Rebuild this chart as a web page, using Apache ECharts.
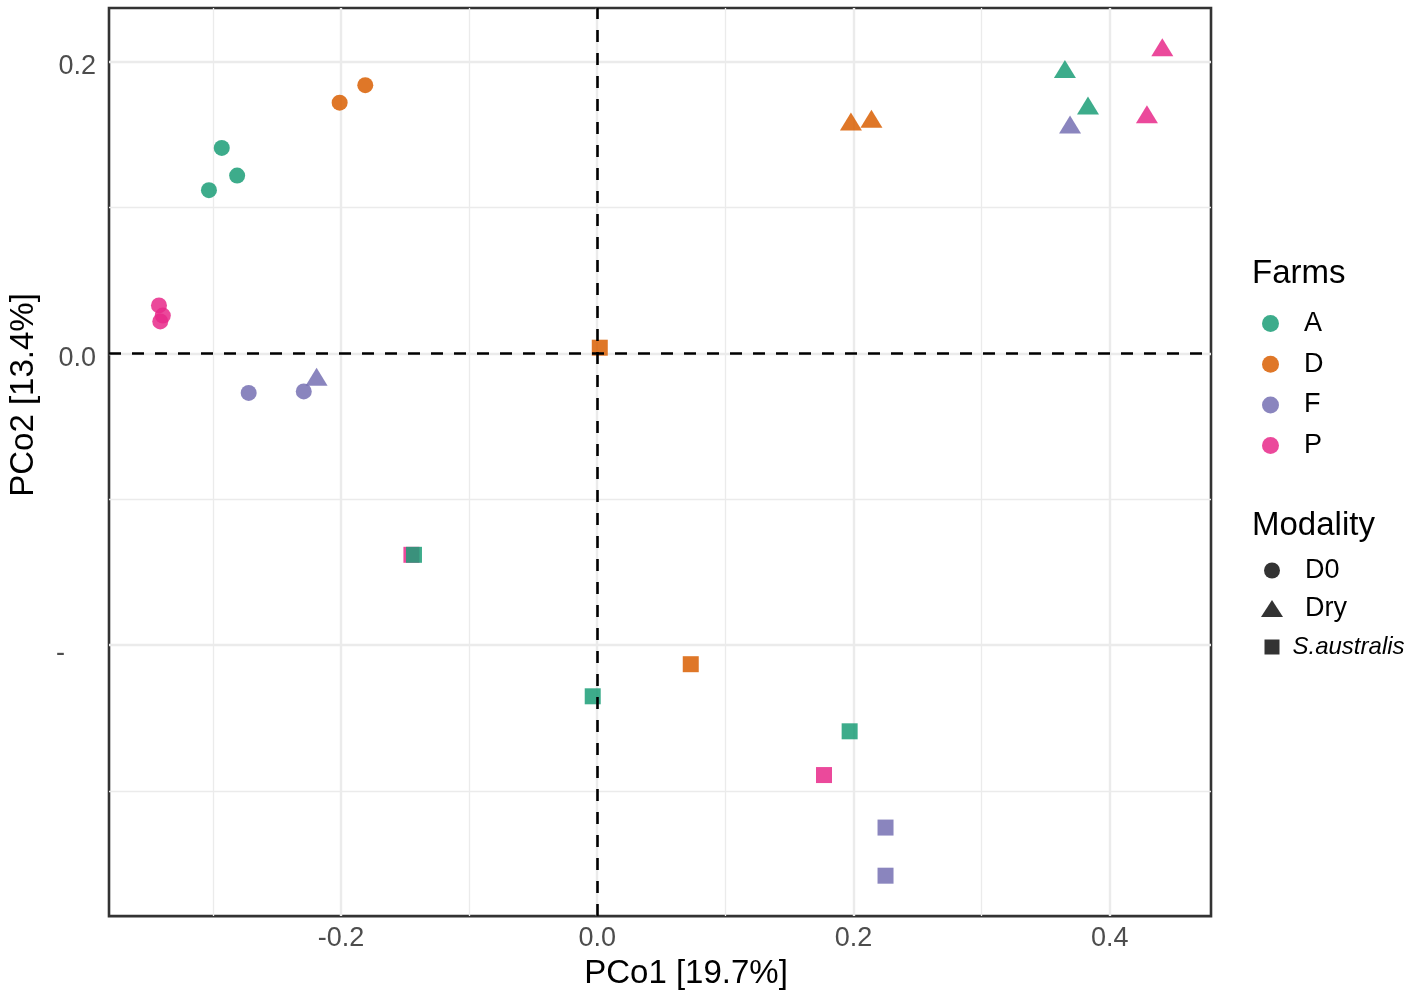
<!DOCTYPE html>
<html>
<head>
<meta charset="utf-8">
<script src="https://cdn.jsdelivr.net/npm/echarts@6/dist/echarts.min.js"></script>
<style>
  html, body { margin: 0; background: #fff; }
  #chart { width: 1417px; height: 995px; }
</style>
</head>
<body>
<div id="chart"></div>
<script>
  const font = "'Liberation Sans', Arial, Helvetica, sans-serif";

  const farmNames = ["A", "D", "F", "P"];
  const farmColors = ["#1B9E77", "#D95F02", "#7570B3", "#E7298A"];
  const modalities = ["D0", "Dry", "S.australis"];

  // [PCo1, PCo2, modality]
  const pointsA = [
    [-0.293, 0.141, "D0"], [-0.281, 0.122, "D0"], [-0.303, 0.112, "D0"],
    [0.365, 0.195, "Dry"], [0.383, 0.170, "Dry"],
    [-0.143, -0.138, "S.australis"], [-0.0035, -0.235, "S.australis"], [0.197, -0.259, "S.australis"],
  ];
  const pointsD = [
    [-0.201, 0.172, "D0"], [-0.181, 0.184, "D0"],
    [0.198, 0.159, "Dry"], [0.214, 0.161, "Dry"],
    [0.002, 0.004, "S.australis"], [0.073, -0.213, "S.australis"],
  ];
  const pointsF = [
    [-0.272, -0.027, "D0"], [-0.229, -0.026, "D0"],
    [-0.219, -0.016, "Dry"], [0.369, 0.157, "Dry"],
    [0.225, -0.325, "S.australis"], [0.225, -0.358, "S.australis"],
  ];
  const pointsP = [
    [-0.342, 0.033, "D0"], [-0.339, 0.026, "D0"], [-0.341, 0.022, "D0"],
    [0.441, 0.210, "Dry"], [0.429, 0.164, "Dry"],
    [-0.145, -0.138, "S.australis"], [0.177, -0.289, "S.australis"],
  ];
  const farmPoints = [pointsA, pointsD, pointsF, pointsP];

  const xMajor = [-0.2, 0, 0.2, 0.4];
  const xMinor = [-0.3, -0.1, 0.1, 0.3];
  const yMajor = [-0.2, 0, 0.2];
  const yMinor = [-0.3, -0.1, 0.1];

  const symbols = { D0: "circle", Dry: "triangle", "S.australis": "rect" };
  const sizes = { D0: 16, Dry: [22, 18], "S.australis": 16 };

  function gridLine(axis, v, width) {
    return { [axis]: v, lineStyle: { color: "#ebebeb", width: width, type: "solid" } };
  }

  // draw P first so A ends up on top (overlapping squares)
  const farmSeries = [3, 2, 1, 0].map((i) => ({
    name: farmNames[i],
    type: "scatter",
    z: 3,
    itemStyle: { color: farmColors[i], opacity: 0.85 },
    data: farmPoints[i].map((p) => ({
      value: [p[0], p[1]],
      symbol: symbols[p[2]],
      symbolSize: sizes[p[2]],
    })),
  }));

  const modalitySeries = modalities.map((m) => ({
    name: m,
    type: "scatter",
    symbol: symbols[m],
    itemStyle: { color: "#333", opacity: 1 },
    data: [],
  }));

  const labelText = { fontSize: 27, color: "#000", fontFamily: font, lineHeight: 26 };

  const option = {
    animation: false,
    backgroundColor: "#fff",
    textStyle: { fontFamily: font },
    grid: {
      left: 109, right: 206, top: 8, bottom: 77,
      show: true, borderColor: "#333", borderWidth: 2.6, backgroundColor: "#fff",
    },
    xAxis: {
      type: "value",
      min: -0.381,
      max: 0.479,
      axisLine: { show: false },
      axisTick: { show: true, customValues: xMajor, length: 6, lineStyle: { color: "#333", width: 2 } },
      axisLabel: {
        customValues: xMajor,
        formatter: (v) => v.toFixed(1),
        fontSize: 27, color: "#4d4d4d", margin: 9, fontFamily: font,
      },
      splitLine: { show: false },
      name: "PCo1 [19.7%]",
      nameLocation: "middle",
      nameGap: 34,
      nameTextStyle: { fontSize: 33, color: "#000", padding: [0, 0, 0, 52], fontFamily: font },
    },
    yAxis: {
      type: "value",
      min: -0.3857,
      max: 0.2369,
      axisLine: { show: false },
      axisTick: { show: true, customValues: yMajor, length: 6, lineStyle: { color: "#333", width: 2 } },
      axisLabel: {
        customValues: yMajor,
        formatter: (v) => (Math.abs(v + 0.2) < 1e-9 ? "{m|-}" : v.toFixed(1)),
        fontSize: 27, color: "#4d4d4d", margin: 13, fontFamily: font,
        padding: [10, 0, 0, 0],
        rich: { m: { fontSize: 27, color: "#4d4d4d", padding: [6, 31, 0, 0], fontFamily: font } },
      },
      splitLine: { show: false },
    },
    title: [
      { text: "Farms", left: 1252, top: 257, padding: 0,
        textStyle: { fontSize: 33, fontWeight: "normal", color: "#000", fontFamily: font } },
      { text: "Modality", left: 1252, top: 509, padding: 0,
        textStyle: { fontSize: 33, fontWeight: "normal", color: "#000", fontFamily: font } },
    ],
    legend: [
      {
        data: farmNames, orient: "vertical", left: 1262, top: 310, padding: 0,
        icon: "circle", itemWidth: 17, itemHeight: 17, itemGap: 13.7, selectedMode: false,
        textStyle: Object.assign({}, labelText, { padding: [0, 0, 0, 20] }),
      },
      {
        data: [{ name: "D0", icon: "circle" }], left: 1264, top: 557, padding: 0,
        itemWidth: 16, itemHeight: 16, selectedMode: false,
        textStyle: Object.assign({}, labelText, { padding: [0, 0, 0, 20] }),
      },
      {
        data: [{ name: "Dry", icon: "triangle" }], left: 1261, top: 595, padding: 0,
        itemWidth: 22, itemHeight: 17, selectedMode: false,
        textStyle: Object.assign({}, labelText, { padding: [0, 0, 0, 17] }),
      },
      {
        data: [{ name: "S.australis", icon: "rect" }], left: 1264.5, top: 634, padding: 0,
        itemWidth: 15, itemHeight: 15, selectedMode: false,
        formatter: (name) => `{i|${name}}`,
        textStyle: Object.assign({}, labelText, {
          padding: [0, 0, 0, 8],
          rich: { i: { fontSize: 24, fontStyle: "italic", color: "#000", fontFamily: font } },
        }),
      },
    ],
    graphic: [
      {
        type: "text", x: 24, y: 395, rotation: Math.PI / 2,
        style: { text: "PCo2 [13.4%]", fontSize: 33, fill: "#000", align: "center", verticalAlign: "middle", fontFamily: font },
      },
    ],
    series: [
      {
        name: "gridlines",
        type: "scatter",
        data: [],
        silent: true,
        markLine: {
          silent: true, z: 1, animation: false,
          symbol: ["none", "none"],
          label: { show: false },
          data: [
            ...xMinor.map((v) => gridLine("xAxis", v, 1.3)),
            ...yMinor.map((v) => gridLine("yAxis", v, 1.3)),
            ...xMajor.map((v) => gridLine("xAxis", v, 2.4)),
            ...yMajor.map((v) => gridLine("yAxis", v, 2.4)),
          ],
        },
      },
      ...farmSeries,
      ...modalitySeries,
      {
        name: "zero lines",
        type: "scatter",
        data: [],
        silent: true,
        markLine: {
          silent: true, z: 6, animation: false,
          symbol: ["none", "none"],
          label: { show: false },
          lineStyle: { color: "#000", width: 2.6, type: [12, 11] },
          data: [{ xAxis: 0 }, { yAxis: 0 }],
        },
      },
    ],
  };

  const chart = echarts.init(document.getElementById("chart"));
  chart.setOption(option);
</script>
</body>
</html>
